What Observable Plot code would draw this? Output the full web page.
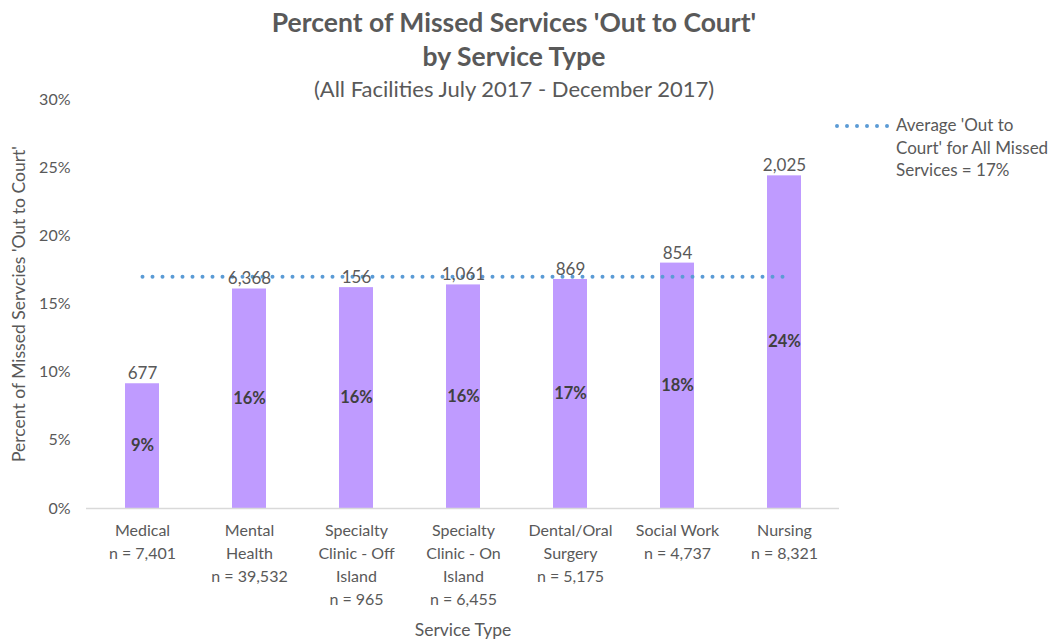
<!DOCTYPE html>
<html>
<head>
<meta charset="utf-8">
<script src="https://cdn.jsdelivr.net/npm/d3@7"></script>
<script src="https://cdn.jsdelivr.net/npm/@observablehq/plot@0.6"></script>
<style>
  body { margin: 0; background: #fff; font-family: Lato, "Open Sans", sans-serif; color: #595959; }
  #wrap { position: relative; width: 1054px; height: 641px; overflow: hidden; }
  #title { position: absolute; left: 0; top: 5px; width: 1028px; text-align: center; }
  #title .t { font-weight: bold; font-size: 26.5px; line-height: 34px; color: #595959; }
  #title .s { font-size: 22px; line-height: 30px; margin-top: 1px; color: #595959; }
  #chart { position: absolute; left: 0; top: 90px; }
  #legend { position: absolute; left: 834px; top: 114px; display: flex; align-items: flex-start; }
  #legend .txt { font-size: 17px; line-height: 22.5px; color: #595959; margin-left: 6px; white-space: nowrap; }
  #chart g[aria-label="y-axis label"] text { font-size: 17.5px; }
  #chart g[aria-label="x-axis label"] text { font-size: 17.5px; }
</style>
</head>
<body>
<div id="wrap">
  <div id="title">
    <div class="t">Percent of Missed Services 'Out to Court'<br>by Service Type</div>
    <div class="s">(All Facilities July 2017 - December 2017)</div>
  </div>
  <div id="chart"></div>
  <div id="legend">
    <svg width="56" height="22"><line x1="3" x2="54" y1="12" y2="12" stroke="#5B9BD5" stroke-width="4" stroke-linecap="round" stroke-dasharray="0 10"></line></svg>
    <div class="txt">Average 'Out to<br>Court' for All Missed<br>Services = 17%</div>
  </div>
</div>
<script>
const services = ["Medical", "Mental Health", "Specialty Clinic - Off Island", "Specialty Clinic - On Island", "Dental/Oral Surgery", "Social Work", "Nursing"];
const serviceLabels = ["Medical", "Mental\nHealth", "Specialty\nClinic - Off\nIsland", "Specialty\nClinic - On\nIsland", "Dental/Oral\nSurgery", "Social Work", "Nursing"];
const nTotals = [7401, 39532, 965, 6455, 5175, 4737, 8321];
const outToCourt = [677, 6368, 156, 1061, 869, 854, 2025];
const pctOutToCourt = [0.0915, 0.161, 0.162, 0.164, 0.168, 0.180, 0.244];
const pctLabels = ["9%", "16%", "16%", "16%", "17%", "18%", "24%"];
const averagePct = 0.17;
const yTicks = [0, 0.05, 0.10, 0.15, 0.20, 0.25, 0.30];

const fmt = d3.format(",");
const data = services.map((s, i) => ({
  service: s,
  label: serviceLabels[i] + "\nn = " + fmt(nTotals[i]),
  n: nTotals[i],
  count: outToCourt[i],
  pct: pctOutToCourt[i],
  pctLabel: pctLabels[i]
}));
const labelOf = new Map(data.map(d => [d.service, d.label]));
const avgData = services.map(s => ({service: s, avg: averagePct}));

const chart = Plot.plot({
  width: 1054,
  height: 551,
  marginTop: 9,
  marginBottom: 133,
  marginLeft: 86,
  marginRight: 215,
  style: {fontFamily: "Lato, 'Open Sans', sans-serif", color: "#595959", background: "transparent"},
  x: {domain: services, paddingInner: 0.684, paddingOuter: 0.342, label: null},
  y: {domain: [0, 0.30], label: null},
  marks: [
    Plot.axisY({ticks: yTicks, tickFormat: d3.format(".0%"), tickSize: 0, tickPadding: 16, fontSize: 16, fill: "#595959",
      label: "Percent of Missed Servcies 'Out to Court'", labelAnchor: "center", labelArrow: "none", labelOffset: 74}),
    Plot.axisX({tickFormat: d => labelOf.get(d), tickSize: 0, tickPadding: 11, fontSize: 16, lineHeight: 1.44, fill: "#595959",
      label: "Service Type", labelAnchor: "center", labelArrow: "none", labelOffset: 127}),
    Plot.barY(data, {x: "service", y: "pct", fill: "#BF9BFF"}),
    Plot.ruleY([0], {stroke: "#D9D9D9", strokeWidth: 1.5}),
    Plot.line(avgData, {x: "service", y: "avg", stroke: "#5B9BD5", strokeWidth: 4, strokeLinecap: "round", strokeDasharray: "0 10"}),
    Plot.text(data, {x: "service", y: "pct", text: d => fmt(d.count), dy: -10, fontSize: 17, fill: "#595959"}),
    Plot.text(data, {x: "service", y: d => d.pct / 2, text: "pctLabel", fontSize: 16.5, fontWeight: "bold", fill: "#404040"})
  ]
});
document.getElementById("chart").appendChild(chart);
</script>
</body>
</html>
